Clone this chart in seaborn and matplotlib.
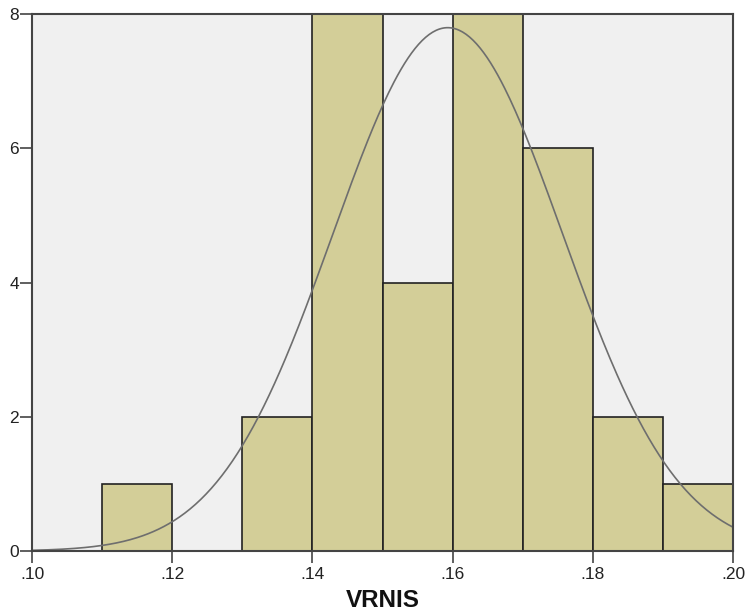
import numpy as np
import pandas as pd
import matplotlib
matplotlib.use("Agg")
import matplotlib.pyplot as plt
import seaborn as sns

# Histogram of VRNIS: bin edges, bin centres and frequencies
bin_edges = [0.10, 0.11, 0.12, 0.13, 0.14, 0.15, 0.16, 0.17, 0.18, 0.19, 0.20]
bin_centers = [0.105, 0.115, 0.125, 0.135, 0.145, 0.155, 0.165, 0.175, 0.185, 0.195]
frequencies = [0, 1, 0, 2, 8, 4, 8, 6, 2, 1]

# Fitted normal curve parameters
curve_mean = 0.1593
curve_sd = 0.01637

x_ticks = [0.10, 0.12, 0.14, 0.16, 0.18, 0.20]
x_tick_labels = [".10", ".12", ".14", ".16", ".18", ".20"]
y_ticks = [0, 2, 4, 6, 8]

sns.set_theme(style="white")
plt.rcParams['font.family'] = ['Arial', 'Liberation Sans', 'DejaVu Sans']

fig = plt.figure(figsize=(7.45, 6.15), dpi=100)
ax = fig.add_axes([0.043, 0.104, 0.941, 0.873])
ax.set_facecolor("#F0F0F0")

df = pd.DataFrame({"VRNIS": bin_centers, "count": frequencies})
sns.histplot(data=df, x="VRNIS", weights="count", bins=bin_edges, ax=ax,
             color="#D3CE98", alpha=1.0, edgecolor="#222222", linewidth=1.2)

# Normal curve scaled to frequencies
n_total = sum(frequencies)
width = bin_edges[1] - bin_edges[0]
xs = np.linspace(bin_edges[0], bin_edges[-1], 400)
ys = n_total * width / (curve_sd * np.sqrt(2 * np.pi)) * np.exp(-0.5 * ((xs - curve_mean) / curve_sd) ** 2)
sns.lineplot(x=xs, y=ys, ax=ax, color="#6E6E6E", linewidth=1.2)

ax.set_xlim(0.10, 0.20)
ax.set_ylim(0, 8)
ax.set_xticks(x_ticks)
ax.set_xticklabels(x_tick_labels)
ax.set_yticks(y_ticks)
ax.set_xlabel("VRNIS", fontsize=17.5, fontweight="bold", color="#111111", labelpad=5)
ax.set_ylabel("")

for s in ax.spines.values():
    s.set_color("#444444")
    s.set_linewidth(1.5)
ax.tick_params(axis="both", which="major", direction="out", length=8.5, width=1.2,
               color="#444444", labelsize=12.5, labelcolor="#222222",
               bottom=True, left=True)
ax.tick_params(axis="x", pad=3)
ax.tick_params(axis="y", pad=1)

fig.savefig("out.png", dpi=100)
